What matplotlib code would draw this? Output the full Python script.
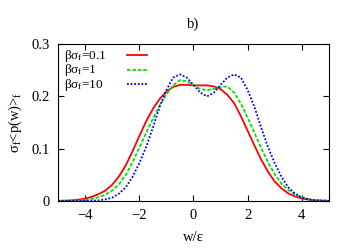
import matplotlib
matplotlib.use("Agg")
import matplotlib.pyplot as plt
import numpy as np

plt.rcParams["font.family"] = ["Liberation Serif", "DejaVu Serif"]
plt.rcParams["mathtext.fontset"] = "custom"
plt.rcParams["mathtext.rm"] = "Liberation Serif"
plt.rcParams["mathtext.it"] = "Liberation Serif"

# w/eps grid, step 0.25 from -5 to 5
w = np.arange(-5, 5.001, 0.25)

# beta*sigma_f = 0.1
p_01 = [0.0003, 0.0006, 0.0012, 0.0025, 0.0045, 0.008, 0.013, 0.020, 0.031,
        0.047, 0.068, 0.095, 0.124, 0.152, 0.176, 0.195, 0.209, 0.218, 0.222,
        0.222, 0.221, 0.221, 0.221, 0.219, 0.214, 0.203, 0.187, 0.162, 0.134,
        0.106, 0.079, 0.056, 0.037, 0.024, 0.0145, 0.0085, 0.0048, 0.0025,
        0.0012, 0.0006, 0.0003]
# beta*sigma_f = 1
p_1 = [0.0, 0.0001, 0.0003, 0.0008, 0.002, 0.004, 0.007, 0.012, 0.020, 0.032,
       0.050, 0.074, 0.102, 0.130, 0.157, 0.182, 0.204, 0.221, 0.231, 0.229,
       0.221, 0.214, 0.212, 0.214, 0.218, 0.219, 0.207, 0.186, 0.159, 0.130,
       0.101, 0.074, 0.051, 0.033, 0.021, 0.012, 0.007, 0.0035, 0.0015,
       0.0006, 0.0002]
# beta*sigma_f = 10
p_10 = [0.0, 0.0, 0.0, 0.0001, 0.0002, 0.0005, 0.001, 0.003, 0.0065, 0.014,
        0.026, 0.046, 0.072, 0.103, 0.140, 0.180, 0.212, 0.236, 0.242, 0.236,
        0.222, 0.207, 0.200, 0.207, 0.222, 0.236, 0.242, 0.236, 0.212, 0.180,
        0.140, 0.103, 0.072, 0.046, 0.026, 0.014, 0.0065, 0.003, 0.001,
        0.0005, 0.0002]

labels = ["βσ$_\\mathrm{f}$=0.1", "βσ$_\\mathrm{f}$=1", "βσ$_\\mathrm{f}$=10"]
colors = ["#ff0000", "#00e000", "#0000ff"]
styles = ["-", (0, (2, 1)), (0, (1, 1))]

fig = plt.figure(figsize=(3.56, 2.49), dpi=100)
ax = fig.add_axes([0.163, 0.193, 0.761, 0.630])

for i, (p, c, ls) in enumerate(zip([p_01, p_1, p_10], colors, styles)):
    ax.plot(w, p, color=c, linestyle=ls, linewidth=1.3)
    # gnuplot-style key: left aligned text, sample line to the right
    y = 0.930 - i * 0.093
    ax.text(0.022, y - 0.022, labels[i], transform=ax.transAxes,
            fontsize=9.5, ha="left", va="baseline")
    ax.plot([0.255, 0.328], [y, y], transform=ax.transAxes, color=c,
            linestyle=ls, linewidth=1.3)

ax.set_xlim(-5, 5)
ax.set_ylim(0, 0.3)
ax.set_xticks([-4, -2, 0, 2, 4])
ax.set_yticks([0, 0.1, 0.2, 0.3])
ax.set_yticklabels(["0", "0.1", "0.2", "0.3"])
ax.tick_params(direction="in", top=True, right=True, length=4, width=0.8,
               labelsize=10.5, pad=6)
for s in ax.spines.values():
    s.set_linewidth(0.8)

ax.set_xlabel("w/ε", fontsize=10.5, labelpad=6)
ax.set_ylabel("σ$_\\mathrm{f}$<p(w)>$_\\mathrm{f}$", fontsize=10.5, labelpad=5)
fig.text(0.543, 0.904, "b)", fontsize=10.5, ha="center", va="center")

fig.savefig("out.png", dpi=100, facecolor="white")
